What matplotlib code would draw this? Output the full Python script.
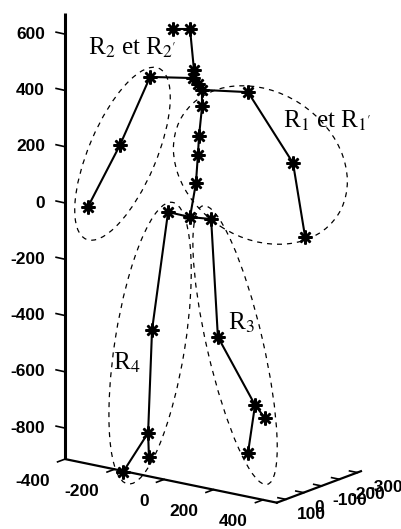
# %%

import numpy as np
import matplotlib.pyplot as plt
from matplotlib.patches import Ellipse

plt.rcParams["font.family"] = "Liberation Sans"
plt.rcParams["mathtext.fontset"] = "stix"

# %%

# skeleton joints: horizontal position on screen and height z
joint_names = ["head_l", "head_r", "neck", "c1", "c2", "c3",
               "l_shoulder", "l_elbow", "l_hand",
               "r_shoulder", "r_elbow", "r_hand",
               "spine1", "spine2", "spine3", "spine4", "pelvis",
               "l_hip", "r_hip",
               "l_knee", "l_ankle", "l_toe", "l_heel",
               "r_knee", "r_ankle", "r_toe", "r_heel"]
joint_x = [100, 160, 174, 171, 188, 203,
           18, -89, -203,
           366, 526, 569,
           203, 192, 188, 181, 160,
           82, 235,
           25, 11, 14, -78,
           259, 391, 426, 366]
joint_z = [618, 618, 473, 444, 423, 402,
           448, 206, -14,
           394, 142, -121,
           345, 238, 171, 71, -50,
           -32, -57,
           -451, -817, -903, -956,
           -476, -718, -764, -888]
bones = [("head_l", "head_r"), ("head_r", "neck"), ("neck", "c1"), ("c1", "c2"), ("c2", "c3"),
         ("c1", "l_shoulder"), ("l_shoulder", "l_elbow"), ("l_elbow", "l_hand"),
         ("c3", "r_shoulder"), ("r_shoulder", "r_elbow"), ("r_elbow", "r_hand"),
         ("c3", "spine1"), ("spine1", "spine2"), ("spine2", "spine3"), ("spine3", "spine4"),
         ("spine4", "pelvis"), ("pelvis", "l_hip"), ("pelvis", "r_hip"),
         ("l_hip", "l_knee"), ("l_knee", "l_ankle"), ("l_ankle", "l_heel"), ("l_ankle", "l_toe"),
         ("r_hip", "r_knee"), ("r_knee", "r_ankle"), ("r_ankle", "r_heel"), ("r_ankle", "r_toe")]

# body regions (dashed ellipses)
region_labels = [r"R$_1$ et R$_{1'}$", r"R$_2$ et R$_{2'}$", r"R$_3$", r"R$_4$"]
region_cx = [410, -80, 320, 18]
region_cz = [135, 175, -505, -498]
region_w = [655, 660, 1016, 1013]
region_h = [520, 240, 199, 249]
region_angle = [-33, 67, 103, 81]
label_x = [490, -203, 295, -114]
label_z = [266, 526, -451, -593]

# axes
z_ticks = [600, 400, 200, 0, -200, -400, -600, -800]
x_ticks = [-400, -200, 0, 200, 400]
y_ticks = [100, 0, -100, -200, -300]

# %%

px = 1 / 0.2814  # data units per pixel
corner = np.array([-284, -910])
x_step = np.array([0.879, -0.181])   # screen vector of one x unit
y_step = np.array([-0.636, -0.238])  # screen vector of one y unit
x_lim = (-400, 456)
y_lim = (150, -320)
z_top = 675

fig = plt.figure(figsize=(4.01, 5.29), dpi=100)
ax = fig.add_axes([0, 0, 1, 1])
ax.set_xlim(-515.3, 909.7)
ax.set_ylim(-1158.5, 721.4)
ax.axis("off")

tick_font = dict(fontsize=12.5, fontweight="bold")

# z axis
ax.plot([corner[0], corner[0]], [corner[1], z_top], color="black", lw=2.2, solid_capstyle="butt")
for z in z_ticks:
    ax.plot([corner[0], corner[0] - 9 * px], [z, z + 2 * px], color="black", lw=1.2)
    ax.text(corner[0] - 20 * px, z, str(z), ha="right", va="center", **tick_font)

# x axis
x_end = corner + (x_lim[1] - x_lim[0]) * x_step
ax.plot([corner[0], x_end[0]], [corner[1], x_end[1]], color="black", lw=1.6)
for v in x_ticks:
    p = corner + (v - x_lim[0]) * x_step
    ax.plot([p[0], p[0] - 8 * px * 0.94], [p[1], p[1] - 8 * px * 0.35], color="black", lw=1.2)
    ax.text(p[0] - 15 * px, p[1] - 22 * px, str(v), ha="right", va="center", **tick_font)

# y axis
y_end = x_end + (y_lim[1] - y_lim[0]) * y_step
ax.plot([x_end[0], y_end[0]], [x_end[1], y_end[1]], color="black", lw=1.6)
for v in y_ticks:
    p = x_end + (v - y_lim[0]) * y_step
    ax.plot([p[0], p[0] - 8 * px * 0.98], [p[1], p[1] + 8 * px * 0.2], color="black", lw=1.2)
    ax.text(p[0] + 11 * px, p[1] - 15 * px, str(v), ha="left", va="center", **tick_font)

# skeleton
idx = {n: i for i, n in enumerate(joint_names)}
for a, b in bones:
    ax.plot([joint_x[idx[a]], joint_x[idx[b]]], [joint_z[idx[a]], joint_z[idx[b]]],
            color="black", lw=1.5)
ax.plot(joint_x, joint_z, ls="none", marker=(8, 2, 0), ms=10, mew=1.8, color="black")

# regions
for i in range(len(region_labels)):
    ax.add_patch(Ellipse((region_cx[i], region_cz[i]), region_w[i], region_h[i],
                         angle=region_angle[i], fill=False, ls=(0, (4, 4)), lw=0.9,
                         edgecolor="black"))
    ax.text(label_x[i], label_z[i], region_labels[i], ha="left", va="baseline",
            fontsize=18, family="Liberation Serif")

fig.savefig("out.png")
